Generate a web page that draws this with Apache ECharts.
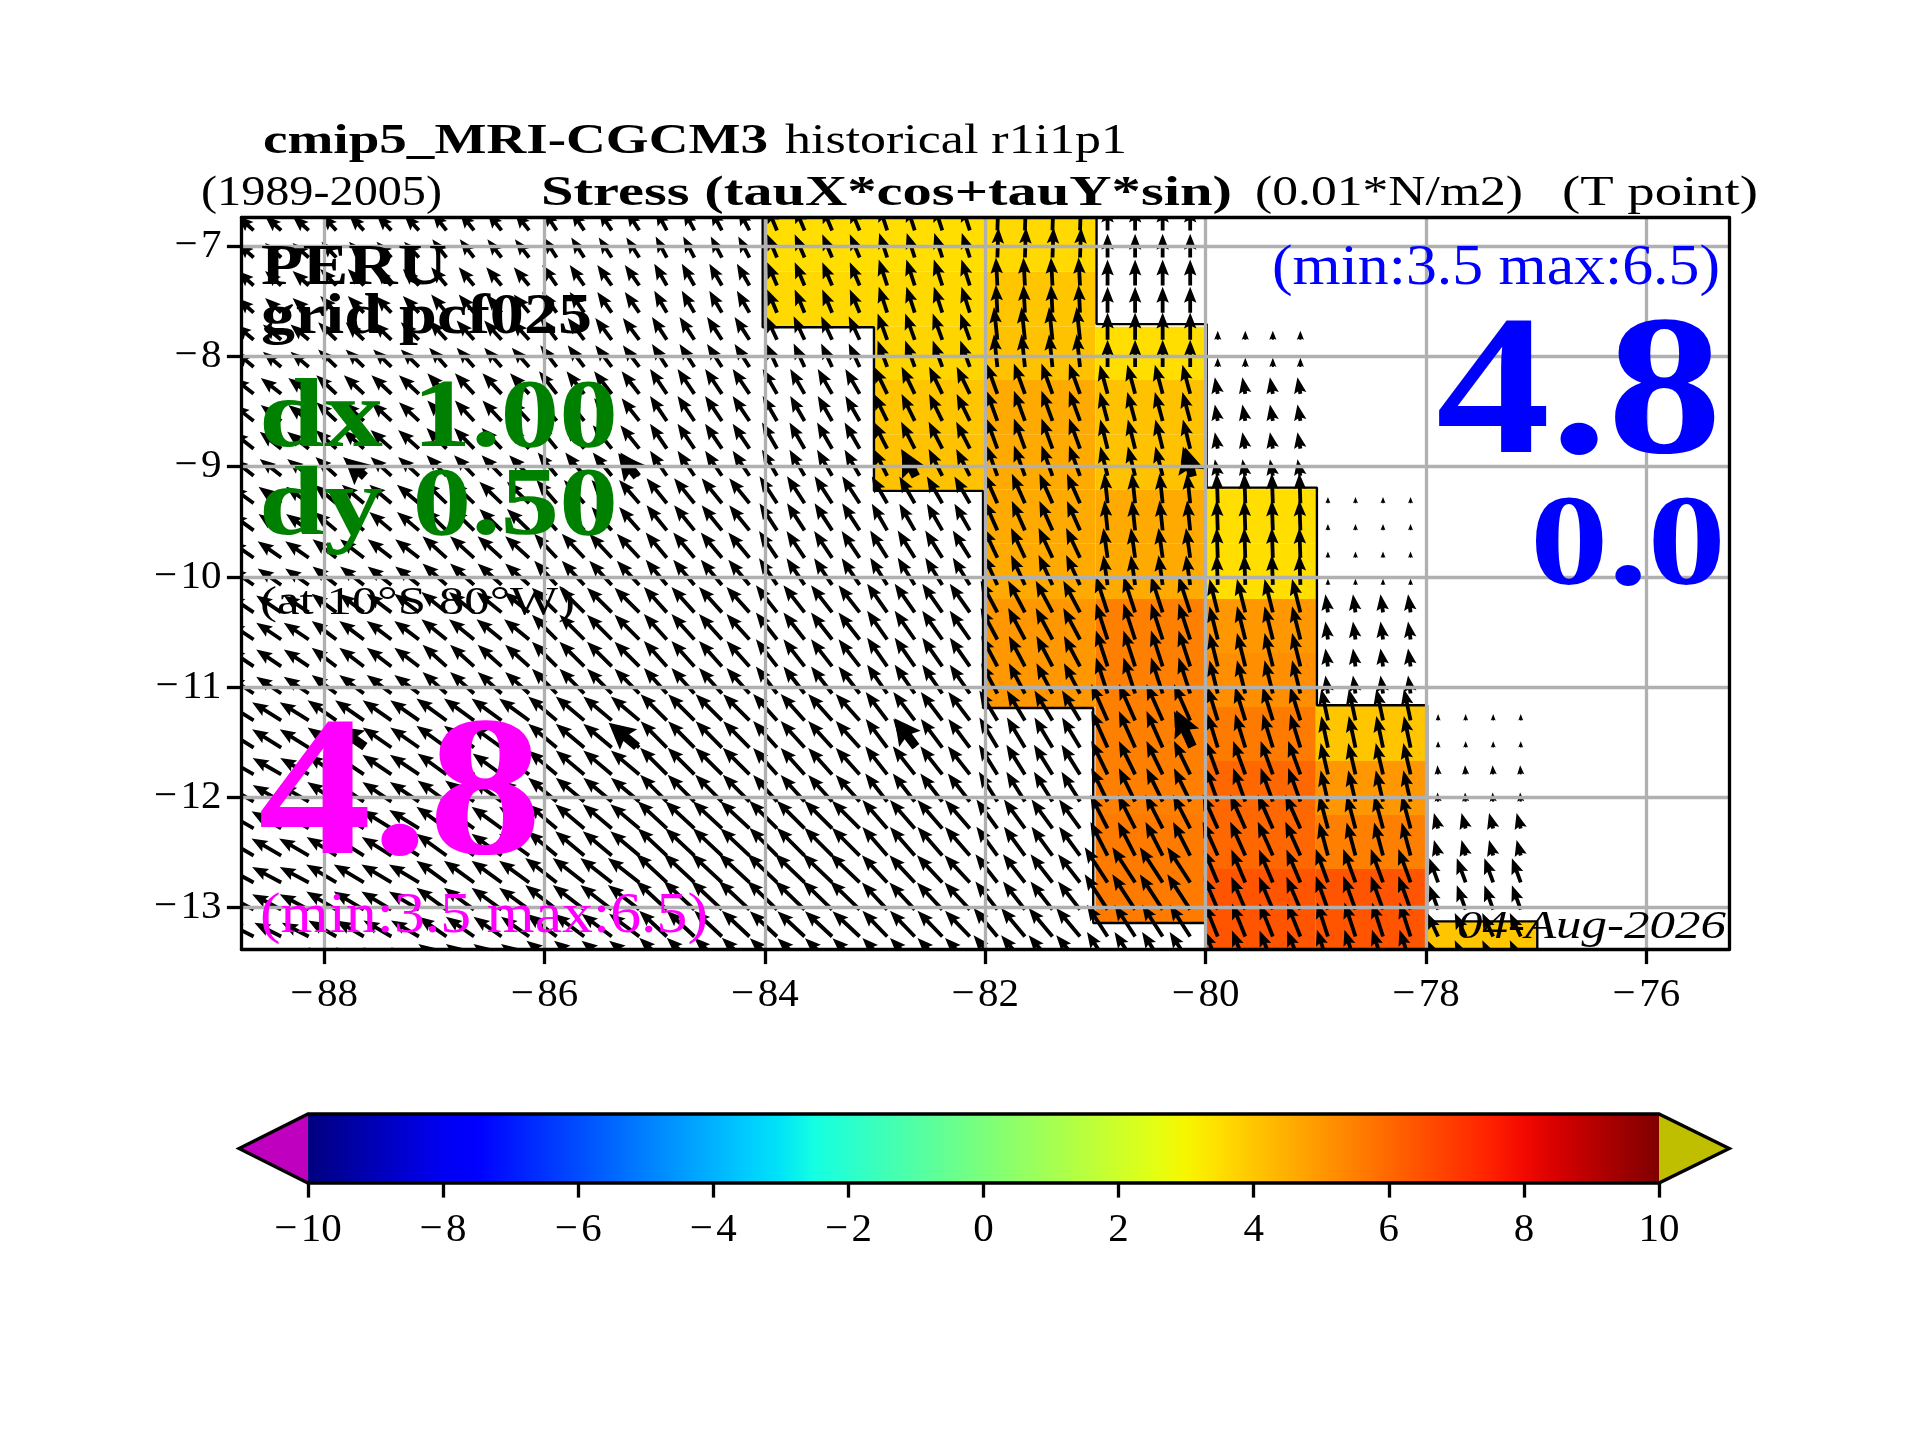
<!DOCTYPE html>
<html>
<head>
<meta charset="utf-8">
<script src="https://cdn.jsdelivr.net/npm/echarts@6/dist/echarts.min.js"></script>
<style>html,body{margin:0;padding:0;background:#fff}#c{width:1920px;height:1440px}</style>
</head>
<body>
<div id="c"></div>
<script>
// ---- axis ticks ----
const lonTicks = [-88,-86,-84,-82,-80,-78,-76];
const latTicks = [-13,-12,-11,-10,-9,-8,-7];
const barTicks = [-10,-8,-6,-4,-2,0,2,4,6,8,10];

// ---- colour field cells (1 deg x 0.5 deg) ----
const fieldLonEdges = [-84,-83,-82,-81,-80,-79,-78,-77];
const latEdges = [-6.73,-7.23,-7.73,-8.215,-8.71,-9.21,-9.70,-10.20,-10.69,-11.18,-11.67,-12.16,-12.65,-13.14,-13.63];
const fieldTop    = [-6.7,-6.7,-6.7,-7.707,-9.19,-11.165,-13.125];
const fieldBottom = [-7.735,-9.22,-11.19,-13.14,-13.5,-13.5,-13.5];
const fieldValues = [
 [3.5,3.5,3.6,null,null,null,null],
 [3.6,3.6,4.0,null,null,null,null],
 [null,3.7,4.1,3.5,null,null,null],
 [null,4.0,4.6,4.1,null,null,null],
 [null,4.1,4.6,4.1,3.5,null,null],
 [null,null,4.6,4.6,3.5,null,null],
 [null,null,4.6,4.6,3.5,null,null],
 [null,null,5.0,5.5,5.0,null,null],
 [null,null,5.0,5.5,5.2,4.0,null],
 [null,null,null,5.5,5.6,4.0,null],
 [null,null,null,5.5,6.0,5.0,null],
 [null,null,null,5.6,6.0,5.5,null],
 [null,null,null,5.6,6.4,6.4,4.0],
 [null,null,null,null,6.4,6.4,4.0]
];

// ---- coast outline ----
const westCoastLon = [-84.02,-84.02,-83.01,-83.01,-82.02,-82.02,-81.02,-81.02,-80,-80];
const westCoastLat = [-6.7,-7.735,-7.735,-9.22,-9.22,-11.19,-11.19,-13.14,-13.14,-13.5];
const eastCoastLon = [-80.99,-80.99,-79.99,-79.99,-78.99,-78.99,-77.99,-77.99,-76.99,-76.99];
const eastCoastLat = [-6.7,-7.707,-7.707,-9.19,-9.19,-11.165,-11.165,-13.125,-13.125,-13.5];

// ---- stress arrows, per coarse cell: columns -89 ... -78 ----
const arrowColLon = [-89,-88,-87,-86,-85,-84,-83,-82,-81,-80,-79,-78];
const arrowSpeed = [
 [3.1,3.1,3.3,3.4,3.4,3.6,3.7,4.3,3.4,null,null,null],
 [3.1,3.3,3.4,3.6,3.6,3.6,3.9,4.0,3.7,null,null,null],
 [3.4,3.6,3.7,3.9,3.9,3.7,4.0,4.7,3.9,1.3,null,null],
 [3.7,3.9,4.0,4.1,4.3,4.1,4.3,4.6,4.3,2.4,null,null],
 [3.9,4.0,4.1,4.3,4.3,4.3,4.3,4.6,4.3,2.4,null,null],
 [4.0,4.1,4.4,4.4,4.6,4.6,4.4,4.6,4.3,4.3,0.9,null],
 [4.1,4.3,4.6,4.7,4.7,4.6,4.6,4.7,4.3,4.3,0.9,null],
 [4.3,4.4,4.6,5.0,4.9,4.9,5.0,5.1,5.4,4.9,2.6,null],
 [4.3,4.4,4.6,5.0,4.9,4.9,5.0,4.9,5.4,4.9,2.6,null],
 [4.9,5.0,5.3,5.3,5.3,5.1,5.1,5.0,5.7,5.0,4.6,0.9],
 [4.7,5.0,5.1,5.3,5.4,5.1,5.1,5.0,5.3,5.1,4.6,1.3],
 [4.9,5.0,5.3,5.4,5.7,5.6,5.4,5.1,5.4,5.3,4.9,2.3],
 [4.7,5.0,5.3,5.7,6.0,5.9,5.3,5.1,6.0,5.1,5.1,3.7],
 [4.3,4.6,4.9,5.4,5.4,5.3,5.1,5.3,5.4,5.1,5.1,3.7]
];
// degrees west of north
const arrowAngle = [
 [48,43,38,33,28,23,18,-2,0,null,null,null],
 [48,44,40,35,30,23,18,3,0,null,null,null],
 [50,46,42,37,33,25,20,6,0,0,null,null],
 [52,47,43,38,34,30,26,20,15,10,null,null],
 [52,48,44,39,34,30,27,20,14,10,null,null],
 [54,50,46,41,39,33,30,24,6,2,0,null],
 [55,52,48,43,40,34,32,25,8,2,0,null],
 [56,53,51,45,42,38,35,28,18,14,8,null],
 [56,53,48,45,42,38,35,28,18,14,8,null],
 [58,55,54,50,45,42,37,31,24,17,12,0],
 [60,56,54,50,45,42,38,32,26,20,13,4],
 [60,58,54,50,47,45,41,36,27,24,15,15],
 [62,59,54,52,47,46,43,38,33,23,20,20],
 [63,60,55,53,47,47,44,40,33,22,18,25]
];
const arrowNodeLon = [0.11,0.36,0.61,0.86];
const arrowNodeLat = [0.123,-0.123];
// heavier reference arrows
const boldLon = [-87.63,-85.16,-82.63,-80.12];
const boldLat = [-9.09,-11.54];

// ---- text ----
const FONT = '"Liberation Serif"';
const texts = [
 ['cmip5_MRI-CGCM3',263,768,153,43,'bold','normal','#000'],
 ['historical r1i1p1',785,1127,153,43,'normal','normal','#000'],
 ['(1989-2005)',201,442,205,43,'normal','normal','#000'],
 ['Stress (tauX*cos+tauY*sin)',541,1232,205,43,'bold','normal','#000'],
 ['(0.01*N/m2)',1255,1523,205,43,'normal','normal','#000'],
 ['(T point)',1562,1758,205,43,'normal','normal','#000'],
 ['PERU',261,447,284,58,'bold','normal','#000'],
 ['grid pcf025',261,592,333,58,'bold','normal','#000'],
 ['dx 1.00',259,618,446,98,'bold','normal','#008000'],
 ['dy 0.50',259,618,534,98,'bold','normal','#008000'],
 ['(at 10°S 80°W)',260,575,614,40,'normal','normal','#000'],
 ['4.8',258,542,852,200,'bold','normal','#ff00ff'],
 ['(min:3.5 max:6.5)',260,708,932,58,'normal','normal','#ff00ff'],
 ['(min:3.5 max:6.5)',1272,1720,284,58,'normal','normal','#0000ff'],
 ['4.8',1436,1722,451,200,'bold','normal','#0000ff'],
 ['0.0',1530,1726,584,130,'bold','normal','#0000ff'],
 ['04-Aug-2026',1457,1726,938,40,'normal','italic','#000']
];

// ---- jet colormap ----
const jetR = [[0,0],[0.35,0],[0.66,1],[0.89,1],[1,0.5]];
const jetG = [[0,0],[0.125,0],[0.375,1],[0.64,1],[0.91,0],[1,0]];
const jetB = [[0,0.5],[0.11,1],[0.34,1],[0.65,0],[1,0]];
function seg(s,t){for(let i=1;i<s.length;i++){if(t<=s[i][0]){const a=s[i-1],b=s[i];return a[1]+(b[1]-a[1])*(t-a[0])/(b[0]-a[0]);}}return s[s.length-1][1];}
function jet(t){const h=x=>Math.round(x*255);return 'rgb('+h(seg(jetR,t))+','+h(seg(jetG,t))+','+h(seg(jetB,t))+')';}
function valueColor(v){return jet((v+10)/20);}

// ---- build series data ----
const cellData=[];
fieldValues.forEach((row,r)=>row.forEach((v,c)=>{if(v!==null)cellData.push([c,r,v]);}));
const arrowData=[];
arrowSpeed.forEach((row,r)=>row.forEach((s,c)=>{
  if(s===null)return;
  const mid=(latEdges[r]+latEdges[r+1])/2;
  arrowNodeLat.forEach(dy=>arrowNodeLon.forEach(dx=>{
    arrowData.push([arrowColLon[c]+dx,mid+dy,s,arrowAngle[r][c]]);
  }));
}));
function cellIndex(lon,lat){
  let c=Math.floor(lon)-arrowColLon[0],r=0;
  while(r<latEdges.length-2&&lat<latEdges[r+1])r++;
  return [r,c];
}
const boldData=[];
boldLat.forEach(la=>boldLon.forEach(lo=>{const [r,c]=cellIndex(lo,la);boldData.push([lo,la,arrowSpeed[r][c],arrowAngle[r][c]]);}));

const PX_PER_UNIT=7;
function arrowShape(p,L,ang,w,hw,hl,hax){
  const k=L<hl?L/hl:1; w*=k;hw*=k;hl*=k;hax*=k;
  const a=ang*Math.PI/180,ux=-Math.sin(a),uy=-Math.cos(a),nx=Math.cos(a),ny=-Math.sin(a);
  const pt=(d,o)=>[p[0]+ux*d+nx*o,p[1]+uy*d+ny*o];
  return [pt(0,-w/2),pt(L-hax,-w/2),pt(L-hl,-hw/2),pt(L,0),pt(L-hl,hw/2),pt(L-hax,w/2),pt(0,w/2)];
}
function arrowRenderer(lenK,w,hw,hl,hax){
  return function(params,api){
    const p=api.coord([api.value(0),api.value(1)]);
    return {type:'polygon',shape:{points:arrowShape(p,api.value(2)*PX_PER_UNIT*lenK,api.value(3),w,hw,hl,hax)},style:{fill:'#000'},silent:true};
  };
}
function cellRenderer(params,api){
  const c=api.value(0),r=api.value(1),v=api.value(2);
  const top=Math.min(latEdges[r],fieldTop[c]);
  const bot=Math.max(latEdges[r+1],fieldBottom[c]);
  if(top<=bot)return null;
  const a=api.coord([fieldLonEdges[c],top]),b=api.coord([fieldLonEdges[c+1],bot]);
  return {type:'rect',shape:{x:a[0],y:a[1],width:b[0]-a[0],height:b[1]-a[1]},style:{fill:valueColor(v)},silent:true};
}
// colour bar
const barStops=[];for(let i=0;i<=40;i++)barStops.push({offset:i/40,color:jet(i/40)});
function barRenderer(params,api){
  const a=api.coord([-10,1]),b=api.coord([10,0]),m=(a[1]+b[1])/2;
  const tl=api.coord([-11.02,0.5])[0],tr=api.coord([11.04,0.5])[0];
  return {type:'group',children:[
    {type:'rect',shape:{x:a[0],y:a[1],width:b[0]-a[0],height:b[1]-a[1]},style:{fill:new echarts.graphic.LinearGradient(0,0,1,0,barStops)}},
    {type:'polygon',shape:{points:[[a[0],a[1]],[tl,m],[a[0],b[1]]]},style:{fill:'#bf00bf'}},
    {type:'polygon',shape:{points:[[b[0],a[1]],[tr,m],[b[0],b[1]]]},style:{fill:'#bfbf00'}},
    {type:'polygon',shape:{points:[[a[0],a[1]],[b[0],a[1]],[tr,m],[b[0],b[1]],[a[0],b[1]],[tl,m]]},style:{fill:'none',stroke:'#000',lineWidth:3.3}}
  ]};
}

// ---- text as graphic elements ----
const measure=document.createElement('canvas').getContext('2d');
const graphicText=texts.map(t=>{
  const [str,x1,x2,base,size,weight,style,color]=t;
  measure.font=style+' '+weight+' '+size+'px '+FONT;
  const w=measure.measureText(str).width;
  return {type:'text',x:x1,y:base-0.255*size,scaleX:(x2-x1)/w,z:20,silent:true,
    style:{text:str,fontFamily:'Liberation Serif',fontSize:size,fontWeight:weight,fontStyle:style,fill:color,align:'left',verticalAlign:'middle'}};
});

const minus=v=>String(v).replace('-','\u2212\u200a');
const lblStyle={fontFamily:'Liberation Serif',fontSize:41,color:'#000'};
const spine={show:true,onZero:false,lineStyle:{color:'#000',width:3.3}};
const gridLine={show:true,lineStyle:{color:'#b0b0b0',width:3.3,type:'solid'}};
const tick=v=>({show:true,length:14.6,inside:false,lineStyle:{color:'#000',width:3.3},customValues:v});
const LON=[-88.75,-75.25],LAT=[-13.38,-6.74];

const option={
  animation:false,
  backgroundColor:'#fff',
  grid:[
    {left:241.5,right:191,top:217.5,height:732,containLabel:false},
    {left:308,right:261,top:1114,height:69,containLabel:false}
  ],
  xAxis:[
    {type:'value',gridIndex:0,position:'bottom',min:LON[0],max:LON[1],z:5,axisLine:spine,axisTick:tick(lonTicks),splitLine:gridLine,
     axisLabel:{...lblStyle,margin:25,formatter:minus,customValues:lonTicks}},
    {type:'value',gridIndex:0,position:'top',min:LON[0],max:LON[1],z:5,axisLine:spine,axisTick:{show:false},splitLine:{show:false},axisLabel:{show:false}},
    {type:'value',gridIndex:1,position:'bottom',min:-10,max:10,interval:2,z:5,axisLine:{show:false},axisTick:{show:true,length:14.6,lineStyle:{color:'#000',width:3.3}},splitLine:{show:false},
     axisLabel:{...lblStyle,margin:27,formatter:minus,customValues:barTicks}}
  ],
  yAxis:[
    {type:'value',gridIndex:0,position:'left',min:LAT[0],max:LAT[1],z:5,axisLine:spine,axisTick:tick(latTicks),splitLine:gridLine,
     axisLabel:{...lblStyle,margin:20,padding:[16,0,0,0],formatter:minus,customValues:latTicks}},
    {type:'value',gridIndex:0,position:'right',min:LAT[0],max:LAT[1],z:5,axisLine:spine,axisTick:{show:false},splitLine:{show:false},axisLabel:{show:false}},
    {type:'value',gridIndex:1,min:0,max:1,show:false}
  ],
  graphic:{elements:graphicText},
  series:[
    {type:'custom',name:'field',xAxisIndex:0,yAxisIndex:0,data:cellData,renderItem:cellRenderer,clip:true,z:1,silent:true,encode:{x:0,y:1},progressive:0},
    {type:'line',name:'west coast',xAxisIndex:0,yAxisIndex:0,data:westCoastLon.map((x,i)=>[x,westCoastLat[i]]),symbol:'none',clip:true,z:2,silent:true,lineStyle:{color:'#000',width:2.4}},
    {type:'line',name:'east coast',xAxisIndex:0,yAxisIndex:0,data:eastCoastLon.map((x,i)=>[x,eastCoastLat[i]]),symbol:'none',clip:true,z:2,silent:true,lineStyle:{color:'#000',width:2.4}},
    {type:'custom',name:'stress',xAxisIndex:0,yAxisIndex:0,data:arrowData,renderItem:arrowRenderer(1,3.8,12.5,16,14),clip:true,z:3,silent:true,encode:{x:0,y:1},progressive:0},
    {type:'custom',name:'stress bold',xAxisIndex:0,yAxisIndex:0,data:boldData,renderItem:arrowRenderer(1,9,27,26,23),clip:true,z:3,silent:true,encode:{x:0,y:1},progressive:0},
    {type:'custom',name:'colorbar',xAxisIndex:2,yAxisIndex:2,data:[[0,0.5]],renderItem:barRenderer,clip:false,z:1,silent:true,encode:{x:0,y:1}}
  ]
};
const chart=echarts.init(document.getElementById('c'),null,{renderer:'canvas',width:1920,height:1440});
chart.setOption(option);
</script>
</body>
</html>
